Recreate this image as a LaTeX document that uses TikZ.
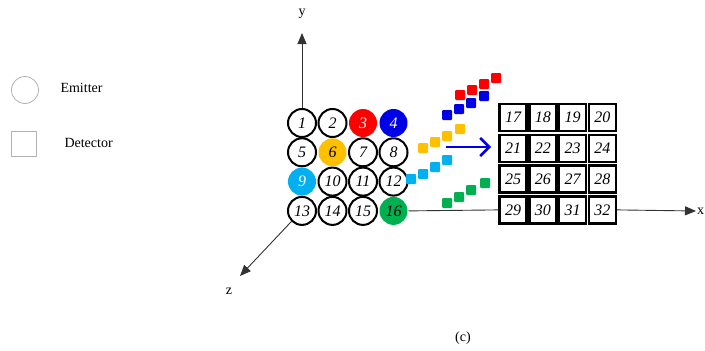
\documentclass[tikz,border=0pt]{standalone}
\usepackage{fontspec}
\setmainfont{Liberation Serif}
\usetikzlibrary{arrows.meta}

\definecolor{emred}{RGB}{255,0,0}
\definecolor{emblue}{RGB}{0,0,230}
\definecolor{emorange}{RGB}{255,192,0}
\definecolor{emcyan}{RGB}{0,176,240}
\definecolor{emgreen}{RGB}{0,176,80}

\tikzset{
	emitter/.style = {circle, draw, line width=2pt, minimum size=28pt, inner sep=0pt, font=\fontsize{16}{16}\selectfont\itshape},
	lit/.style = {emitter, draw=none, fill=#1},
	detector/.style = {rectangle, draw, line width=2.4pt, minimum size=27pt, inner sep=0pt, font=\fontsize{16}{16}\selectfont\itshape},
	axis/.style = {line width=0.9pt, draw=black!80, -{Triangle[length=11pt,width=9pt]}},
	ray/.style = {fill=#1, rounded corners=1pt}
}

\begin{document}
\begin{tikzpicture}[x=1pt, y=-1pt, font=\fontsize{14}{14}\selectfont]
		\useasboundingbox (0,0) rectangle (705,351);
		
		% legend
		\node[circle, draw=black!30, line width=0.8pt, minimum size=27pt] (lemit) at (25,90) {};
		\node[anchor=west] (lemittxt) at (57,88) {Emitter};
		\node[rectangle, draw=black!30, line width=0.8pt, minimum size=25pt] (ldet) at (24,144) {};
		\node[anchor=west] (ldettxt) at (61,143) {Detector};
		
		% emitters
		\foreach \n/\c/\r in {1/0/0, 2/1/0, 5/0/1, 7/2/1, 8/3/1, 10/1/2, 11/2/2, 12/3/2, 13/0/3, 14/1/3, 15/2/3}
			\node[emitter] (e\n) at (302+30.5*\c, 123+29.3*\r) {\n};
		\node[lit=emred, text=white] (e3) at (363,123) {3};
		\node[lit=emblue, text=white] (e4) at (393.5,123) {4};
		\node[lit=emorange] (e6) at (332.5,152.3) {6};
		\node[lit=emcyan, text=white] (e9) at (302,181.6) {9};
		\node[lit=emgreen] (e16) at (393.5,210.9) {16};
		
		% detectors
		\foreach \n in {17,...,32}{
			\pgfmathtruncatemacro{\c}{mod(\n-17,4)}
			\pgfmathtruncatemacro{\r}{div(\n-17,4)}
			\node[detector] (d\n) at (513+29.8*\c, 117.5+30.8*\r) {\n};
		}
		
		% light
		\foreach \x/\y in {460/95, 472/90, 484/84, 496/78} \fill[ray=emred] (\x-5,\y-5) rectangle ++(10,10);
		\foreach \x/\y in {447/115, 459/109, 471/103, 484/96} \fill[ray=emblue] (\x-5,\y-5) rectangle ++(10,10);
		\foreach \x/\y in {423/148, 435/142, 447/136, 460/129} \fill[ray=emorange] (\x-5,\y-5) rectangle ++(10,10);
		\foreach \x/\y in {411/179, 423/174, 435/167, 447/160} \fill[ray=emcyan] (\x-5,\y-5) rectangle ++(10,10);
		\foreach \x/\y in {447/203, 459/197, 471/190, 485/183} \fill[ray=emgreen] (\x-5,\y-5) rectangle ++(10,10);
		
		\coordinate (bstart) at (446,147);
		\coordinate (bend) at (491,147);
		\draw[emblue, line width=2.5pt, -{Straight Barb[length=9pt,width=18pt]}] (bstart) -- (bend);
		
		% axes
		\coordinate (ytip) at (302,33);
		\coordinate (ztip) at (240,276);
		\coordinate (xtip) at (696,211);
		\draw[axis] (e1.north) -- (ytip);
		\draw[axis] (e13.south west) -- (ztip);
		\draw[line width=0.9pt, draw=black!80] (e16.east) -- (d29.west);
		\draw[axis] (d32.east) -- (xtip);
		\node (ylab) at (302,14) {y};
		\node (zlab) at (229,291) {z};
		\node[anchor=west, inner sep=1pt] (xlab) at (xtip) {x};
		
		\node (cap) at (463,338) {(c)};
	\end{tikzpicture}
\end{document}
